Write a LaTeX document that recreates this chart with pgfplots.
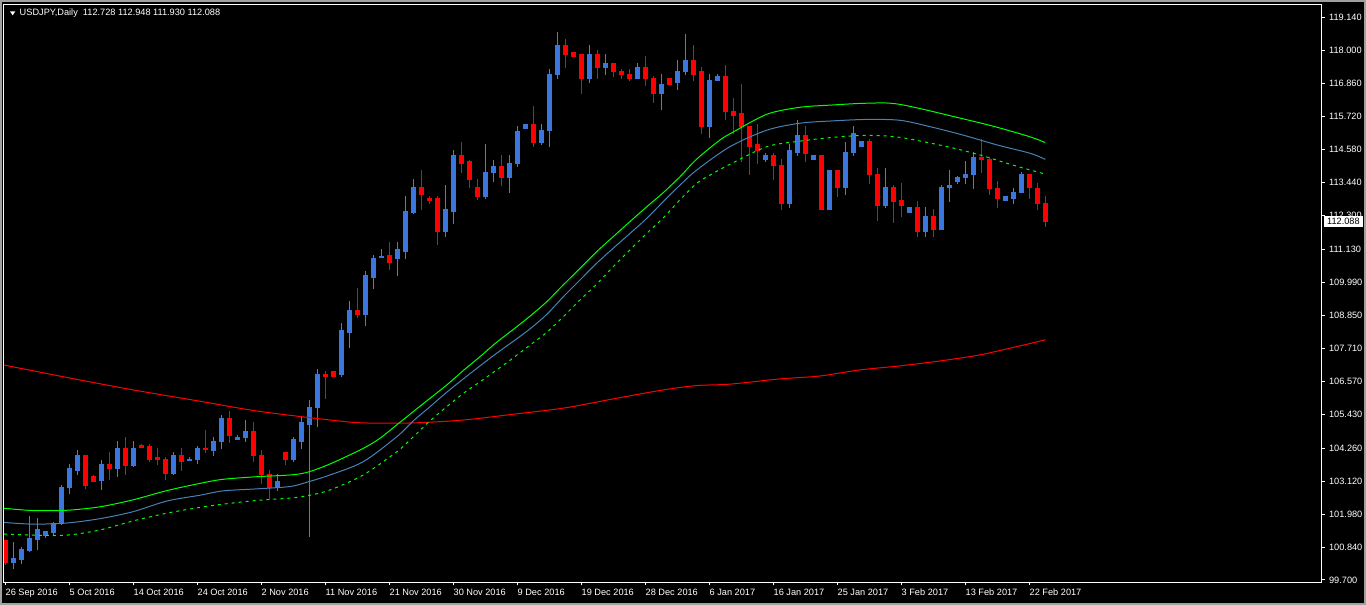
\documentclass[border=0pt]{standalone}
\usepackage{fontspec}
\setmainfont{Liberation Sans}
\usepackage{pgfplots}
\usepackage{pgfplotstable}
\pgfplotsset{compat=1.18}

\definecolor{bullbody}{RGB}{58,118,222}
\definecolor{bullwick}{RGB}{45,135,235}
\definecolor{bearred}{RGB}{255,0,0}
\definecolor{lime}{RGB}{0,255,0}
\definecolor{mablue}{RGB}{70,130,180}
\definecolor{winborder}{RGB}{160,160,160}

% daily candles, bar index 0 = 26 Sep 2016
\pgfplotstableread{
i o h l c
0 101.06 101.08 100.22 100.30
1 100.30 101.01 100.09 100.43
2 100.40 100.84 100.26 100.77
3 100.71 101.88 100.70 101.12
4 101.09 101.81 100.75 101.43
5 101.25 101.39 101.16 101.36
6 101.33 101.70 101.27 101.66
7 101.65 102.98 101.61 102.91
8 102.89 103.68 102.68 103.54
9 103.50 104.19 103.34 103.99
10 103.99 104.02 102.85 102.95
11 103.29 103.32 103.10 103.12
12 103.13 103.82 102.82 103.68
13 103.68 104.09 103.17 103.54
14 103.55 104.50 103.27 104.25
15 104.26 104.64 103.33 103.65
16 103.64 104.50 103.61 104.26
17 104.34 104.38 104.27 104.29
18 104.33 104.40 103.79 103.88
19 103.92 104.23 103.68 103.85
20 103.88 103.95 103.17 103.37
21 103.37 104.12 103.34 103.99
22 103.99 104.23 103.50 103.81
23 103.82 103.95 103.82 103.88
24 103.86 104.33 103.71 104.26
25 104.26 104.88 104.10 104.20
26 104.19 104.64 104.02 104.50
27 104.47 105.37 104.26 105.27
28 105.27 105.54 104.44 104.71
29 104.54 104.71 104.54 104.64
30 104.61 105.23 104.50 104.85
31 104.85 105.13 103.78 103.99
32 104.02 104.19 103.02 103.33
33 103.36 103.47 102.53 102.91
34 102.91 103.36 102.81 103.12
35 104.09 104.12 103.68 103.85
36 103.85 104.64 103.81 104.54
37 104.50 105.33 104.26 105.13
38 105.09 105.89 101.19 105.65
39 105.65 106.96 104.99 106.82
40 106.82 106.92 105.99 106.72
41 106.89 106.89 106.72 106.75
42 106.79 108.55 106.72 108.31
43 108.27 109.34 107.75 109.03
44 109.03 109.76 108.76 108.86
45 108.86 110.35 108.51 110.21
46 110.17 110.90 109.76 110.83
47 110.86 111.11 110.85 110.87
48 110.90 111.35 110.42 110.69
49 110.80 111.35 110.24 111.11
50 111.07 112.97 110.80 112.45
51 112.39 113.53 112.36 113.28
52 113.28 113.87 112.52 113.01
53 112.87 112.94 112.73 112.83
54 112.87 112.97 111.31 111.76
55 111.76 113.32 111.59 112.49
56 112.45 114.53 112.01 114.36
57 114.36 114.81 113.77 114.11
58 114.15 114.19 113.28 113.53
59 113.28 113.53 112.84 112.97
60 112.97 114.74 112.90 113.80
61 113.77 114.19 113.46 114.01
62 114.01 114.39 113.35 113.60
63 113.60 114.36 113.08 114.11
64 114.08 115.36 113.98 115.22
65 115.32 115.45 115.29 115.43
66 115.43 116.08 114.70 114.81
67 114.81 115.46 114.74 115.25
68 115.22 117.36 114.70 117.19
69 117.16 118.64 117.05 118.19
70 118.19 118.40 117.40 117.85
71 117.92 117.92 117.78 117.81
72 117.85 117.85 116.50 117.05
73 117.05 118.19 116.91 117.85
74 117.85 118.02 117.05 117.40
75 117.40 117.85 117.19 117.54
76 117.54 117.57 117.12 117.29
77 117.29 117.33 117.05 117.16
78 117.19 117.33 116.95 117.05
79 117.05 117.57 117.02 117.43
80 117.43 117.78 116.78 117.02
81 117.05 117.12 116.19 116.50
82 116.50 117.16 115.98 116.84
83 117.02 117.02 116.81 116.84
84 116.88 117.64 116.67 117.29
85 117.26 118.57 117.16 117.67
86 117.67 118.16 116.98 117.19
87 117.26 117.40 115.15 115.39
88 115.39 117.16 115.01 116.98
89 116.95 117.16 116.95 117.12
90 117.12 117.50 115.60 115.88
91 115.91 116.33 115.15 115.77
92 115.81 116.84 114.18 115.36
93 115.39 115.39 113.70 114.70
94 114.74 115.43 114.11 114.53
95 114.25 114.43 114.15 114.39
96 114.39 114.43 113.56 114.04
97 114.04 114.25 112.52 112.73
98 112.73 114.77 112.59 114.53
99 114.49 115.60 114.36 115.05
100 115.05 115.36 114.15 114.43
101 114.22 114.39 114.22 114.36
102 114.36 114.36 112.49 112.49
103 112.52 113.87 112.49 113.84
104 113.84 113.84 112.97 113.28
105 113.28 114.84 113.01 114.49
106 114.49 115.36 114.36 115.12
107 114.67 114.87 114.67 114.87
108 114.87 114.94 113.39 113.70
109 113.73 113.94 112.14 112.63
110 112.63 113.94 112.59 113.28
111 113.28 113.35 112.07 112.80
112 112.83 113.42 112.28 112.63
113 112.39 112.59 112.39 112.56
114 112.56 112.77 111.59 111.73
115 111.73 112.56 111.56 112.28
116 112.28 112.52 111.59 111.80
117 111.80 113.32 111.80 113.28
118 113.25 113.84 112.80 113.35
119 113.49 113.66 113.39 113.63
120 113.60 114.15 113.39 113.73
121 113.70 114.49 113.22 114.29
122 114.29 114.94 113.80 114.22
123 114.25 114.32 113.04 113.22
124 113.25 113.49 112.56 112.87
125 112.83 112.97 112.83 112.94
126 112.90 113.22 112.73 113.11
127 113.11 113.77 113.11 113.70
128 113.70 113.70 112.87 113.28
129 113.25 113.42 112.49 112.70
130 112.728 112.948 111.930 112.088
}\candles

% long moving average (red)
\pgfplotstableread{
i p
-0.16 107.13
8.1 106.68
16.0 106.27
24.1 105.89
31.5 105.54
40.59 105.23
44.75 105.13
51.0 105.13
57.25 105.23
63.5 105.43
69.75 105.64
76.0 105.96
82.25 106.27
86.43 106.42
90.59 106.47
96.8 106.65
101.8 106.75
106.8 106.96
111.8 107.10
116.8 107.27
121.8 107.48
126.8 107.79
130 108.00
}\maslow

% upper band (green, solid)
\pgfplotstableread{
i p
-0.16 102.18
3.46 102.10
7.71 102.11
11.84 102.23
15.96 102.47
20.21 102.79
24.34 103.04
27.21 103.18
31.46 103.27
35.59 103.33
37.71 103.42
40.59 103.71
44.75 104.25
46.84 104.60
48.93 105.06
51.00 105.52
53.09 105.98
55.18 106.44
57.25 106.94
59.34 107.42
61.43 107.92
63.50 108.36
65.59 108.82
67.68 109.32
69.75 109.90
71.84 110.47
73.93 111.05
76.00 111.57
78.09 112.09
80.18 112.60
82.25 113.09
84.34 113.64
86.43 114.25
89.34 114.91
90.96 115.18
95.21 115.80
99.34 116.04
103.46 116.12
107.71 116.18
111.84 116.14
120.34 115.60
123.96 115.35
128.09 115.02
130 114.82
}\upband

% middle line (blue)
\pgfplotstableread{
i p
-0.16 101.69
3.46 101.63
7.71 101.67
11.84 101.82
15.96 102.06
20.21 102.43
24.34 102.63
27.21 102.78
31.46 102.85
35.59 102.93
37.71 103.08
40.59 103.33
44.75 103.79
48.93 104.65
51.00 105.20
53.09 105.69
55.18 106.19
57.25 106.65
59.34 107.10
61.43 107.54
63.50 107.95
65.59 108.38
67.68 108.88
69.75 109.49
71.84 110.07
73.93 110.65
76.00 111.17
78.09 111.68
80.18 112.20
82.25 112.78
84.34 113.35
86.43 113.87
90.59 114.68
95.21 115.25
99.34 115.49
103.46 115.57
107.71 115.62
111.84 115.59
115.59 115.37
119.71 115.08
123.96 114.74
128.09 114.45
130 114.24
}\midband

% lower band (green, dashed)
\pgfplotstableread{
i p
-0.16 101.29
3.46 101.25
7.71 101.25
11.84 101.43
15.96 101.74
20.21 102.01
24.34 102.21
27.21 102.32
31.46 102.45
35.59 102.53
37.71 102.61
40.59 102.81
44.75 103.33
48.93 104.13
51.00 104.65
53.09 105.20
55.18 105.69
57.25 106.15
59.34 106.55
61.43 106.96
63.50 107.38
65.59 107.82
67.68 108.26
69.75 108.80
71.84 109.38
73.93 109.93
76.00 110.53
78.09 111.11
80.18 111.68
82.25 112.22
84.34 112.84
86.43 113.41
88.50 113.76
90.80 114.10
95.21 114.68
99.34 114.87
103.46 115.00
107.71 115.07
111.84 115.00
117.71 114.68
121.84 114.39
125.96 114.04
130 113.73
}\lowband

\begin{document}
\begin{tikzpicture}[x=1pt,y=1pt]
\fill[black] (0,0) rectangle (683,302.5);
\draw[winborder, line width=1pt] (0.5,0.5) rectangle (682.5,302);
\begin{axis}[
  at={(2pt,11.35pt)}, anchor=south west,
  scale only axis, width=658.85pt, height=288.8pt,
  xmin=-0.16, xmax=164.55, ymin=99.62, ymax=119.586,
  axis line style={draw=white, line width=0.5pt},
  every tick/.style={white, line width=0.5pt},
  tick align=outside, major tick length=1.5pt,
  xtick pos=bottom, ytick pos=right, yticklabel pos=right,
  xtick={0,8,...,128},
  xticklabels={26 Sep 2016, 5 Oct 2016, 14 Oct 2016, 24 Oct 2016, 2 Nov 2016, 11 Nov 2016, 21 Nov 2016, 30 Nov 2016, 9 Dec 2016, 19 Dec 2016, 28 Dec 2016, 6 Jan 2017, 16 Jan 2017, 25 Jan 2017, 3 Feb 2017, 13 Feb 2017, 22 Feb 2017},
  ytick={99.7,100.84,101.98,103.12,104.26,105.43,106.57,107.71,108.85,109.99,111.13,112.3,113.44,114.58,115.72,116.86,118,119.14},
  yticklabels={99.700,100.840,101.980,103.120,104.260,105.430,106.570,107.710,108.850,109.990,111.130,112.300,113.440,114.580,115.720,116.860,118.000,119.140},
  ticklabel style={font=\fontsize{4.6}{5}\selectfont, text=white, inner sep=0pt},
  xticklabel style={anchor=north west, yshift=-1.5pt},
  yticklabel style={anchor=west, xshift=2pt},
  candle/.style={draw=none, mark=none, forget plot,
    error bars/.cd, y dir=both, y explicit, error mark=none},
]
% wicks
\addplot[candle, error bar style={draw=bullwick, line width=0.5pt}]
  table[x=i, y expr={\thisrow{c}>=\thisrow{o} ? 0.5*(\thisrow{h}+\thisrow{l}) : nan},
        y error expr={0.5*(\thisrow{h}-\thisrow{l})+0.017}] {\candles};
\addplot[candle, error bar style={draw=bearred, line width=0.5pt}]
  table[x=i, y expr={\thisrow{c}<\thisrow{o} ? 0.5*(\thisrow{h}+\thisrow{l}) : nan},
        y error expr={0.5*(\thisrow{h}-\thisrow{l})+0.017}] {\candles};
% bodies
\addplot[candle, error bar style={draw=bullbody, line width=2.5pt}]
  table[x=i, y expr={\thisrow{c}>=\thisrow{o} ? 0.5*(\thisrow{o}+\thisrow{c}) : nan},
        y error expr={0.5*abs(\thisrow{c}-\thisrow{o})+0.017}] {\candles};
\addplot[candle, error bar style={draw=bearred, line width=2.5pt}]
  table[x=i, y expr={\thisrow{c}<\thisrow{o} ? 0.5*(\thisrow{o}+\thisrow{c}) : nan},
        y error expr={0.5*abs(\thisrow{c}-\thisrow{o})+0.017}] {\candles};
% indicators
\addplot[red, line width=0.5pt, mark=none, smooth] table[x=i, y=p] {\maslow};
\addplot[lime, line width=0.5pt, mark=none, smooth] table[x=i, y=p] {\upband};
\addplot[mablue, line width=0.5pt, mark=none, smooth] table[x=i, y=p] {\midband};
\addplot[lime, line width=0.5pt, mark=none, smooth, dash pattern=on 1.5pt off 2pt] table[x=i, y=p] {\lowband};
\coordinate (lastp) at (axis cs:164.55,112.088);
\end{axis}
% current price box on the price scale
\fill[white] ([xshift=1pt,yshift=-2.6pt]lastp) rectangle ([xshift=20.6pt,yshift=2.6pt]lastp);
\node[anchor=west, inner sep=0pt, text=black, font=\fontsize{4.6}{5}\selectfont] at ([xshift=2.5pt]lastp) {112.088};
% header
\fill[white] (5,296.83) -- (7.67,296.83) -- (6.33,294.83) -- cycle;
\node[anchor=base west, inner sep=0pt, text=white, font=\fontsize{4.6}{5}\selectfont] at (9.67,294.5) {USDJPY,Daily\ \ 112.728 112.948 111.930 112.088};
\end{tikzpicture}
\end{document}
